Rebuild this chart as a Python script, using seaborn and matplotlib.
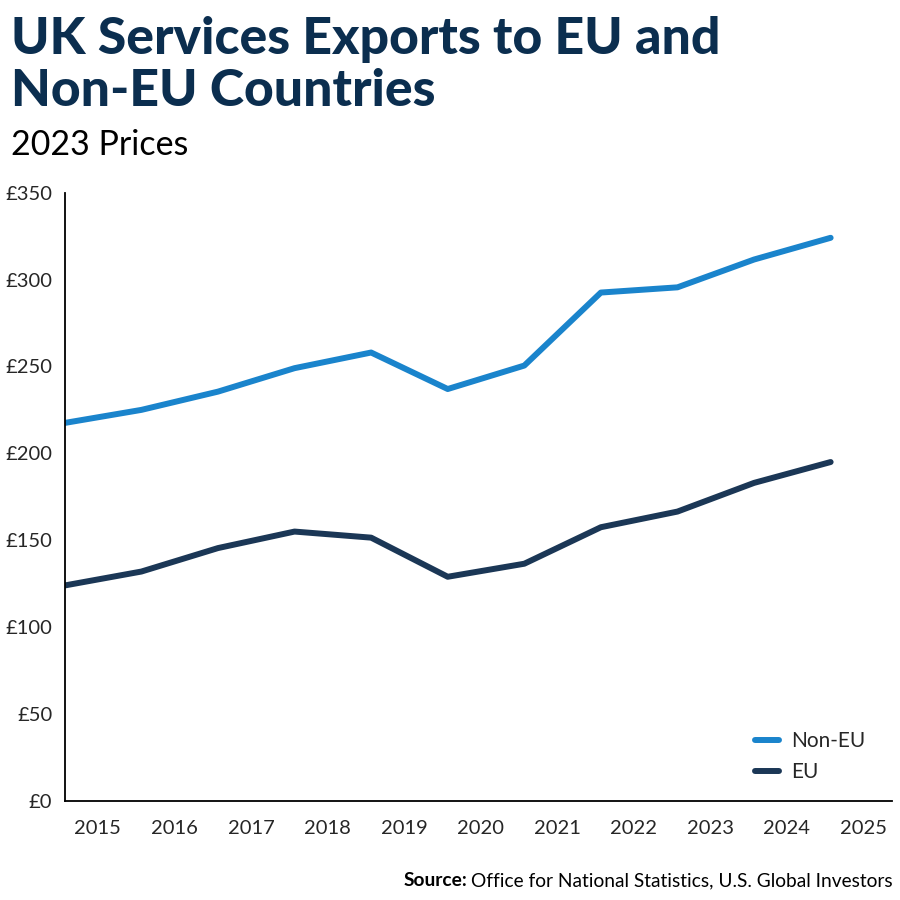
import matplotlib
matplotlib.use("Agg")
import matplotlib.pyplot as plt
import seaborn as sns
import pandas as pd
import numpy as np

years = ["2015", "2016", "2017", "2018", "2019", "2020", "2021", "2022", "2023", "2024", "2025"]
non_eu = [217.5, 225, 235.5, 249, 258, 237, 250.5, 292.5, 295.5, 311.5, 324]
eu = [124, 132, 145.5, 155, 151.5, 129, 136.5, 157.5, 166.5, 183, 195]
series_names = ["Non-EU", "EU"]
colors = ["#1a84cc", "#1b3756"]
yticks = [0, 50, 100, 150, 200, 250, 300, 350]

sns.set_theme(style="white")
plt.rcParams['font.family'] = ['Lato', 'DejaVu Sans']

df = pd.DataFrame({
    "x": list(range(len(years))) * 2,
    "value": non_eu + eu,
    "series": [series_names[0]] * len(years) + [series_names[1]] * len(years),
})

fig = plt.figure(figsize=(9, 9), dpi=100)
ax = fig.add_axes([0.072, 0.11, 0.919, 0.676])
sns.lineplot(data=df, x="x", y="value", hue="series", palette=colors,
             hue_order=series_names, linewidth=4.3, ax=ax, legend=True)

ax.set_ylim(0, 350)
ax.set_xlim(0, 10.8)
ax.set_yticks(yticks)
ax.set_yticklabels([f"£{v}" for v in yticks], fontsize=14.5)
ax.set_xticks(range(len(years)))
ax.set_xticklabels([])
ax.set_xticks([i + 0.43 for i in range(len(years))], minor=True)
ax.set_xticklabels(years, minor=True, fontsize=14.5)
ax.tick_params(axis="x", which="minor", length=0, pad=14)
ax.tick_params(axis="x", which="major", length=7, width=1.3, color="black", direction="out")
ax.tick_params(axis="y", length=7, width=1.3, color="black", direction="out", pad=2)
ax.set_xlabel("")
ax.set_ylabel("")
for s in ["top", "right"]:
    ax.spines[s].set_visible(False)
for s in ["left", "bottom"]:
    ax.spines[s].set_color("black")
    ax.spines[s].set_linewidth(1.3)

leg = ax.legend(loc="lower right", bbox_to_anchor=(0.99, 0.0), frameon=False,
                fontsize=15, handlelength=1.15, handletextpad=0.55, labelspacing=0.55)
for line in leg.get_lines():
    line.set_linewidth(4.3)
    line.set_solid_capstyle("round")

fig.text(0.012, 0.94, "UK Services Exports to EU and", fontsize=37.3, fontweight="black",
         color="#0b2e4f", ha="left", va="baseline")
fig.text(0.012, 0.882, "Non-EU Countries", fontsize=37.3, fontweight="black",
         color="#0b2e4f", ha="left", va="baseline")
fig.text(0.012, 0.828, "2023 Prices", fontsize=24.5, color="black", ha="left", va="baseline")

t1 = fig.text(0.992, 0.012, "Office for National Statistics, U.S. Global Investors",
              fontsize=13.8, ha="right", va="bottom", color="black")
fig.canvas.draw()
bb = t1.get_window_extent()
x0 = bb.x0 / fig.bbox.width
fig.text(x0 - 0.004, 0.012, "Source:", fontsize=13.8, fontweight="bold", ha="right",
         va="bottom", color="black")

fig.savefig("out.png", dpi=100)
